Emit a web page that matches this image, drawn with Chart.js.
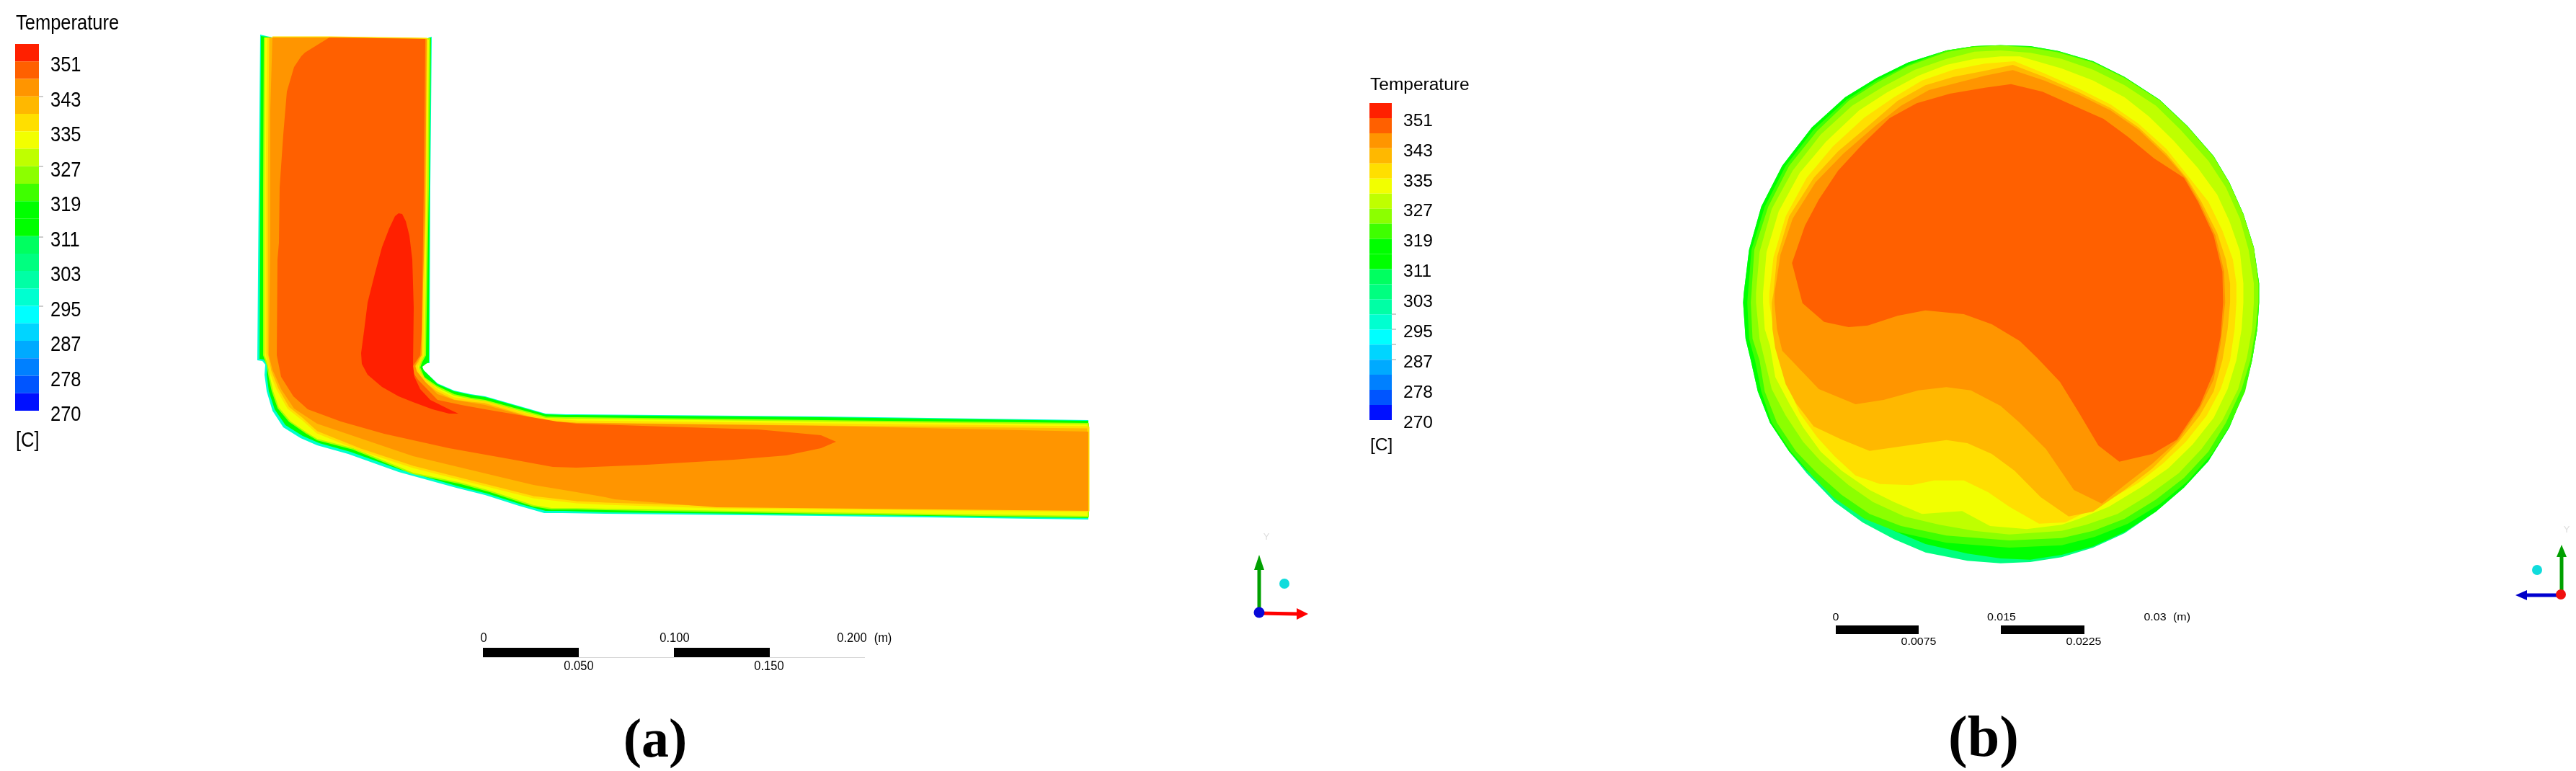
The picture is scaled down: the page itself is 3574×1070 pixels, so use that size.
<!DOCTYPE html>
<html>
<head>
<meta charset="utf-8">
<style>html,body{margin:0;padding:0;background:#fff}canvas{display:block}</style>
<script src="https://cdn.jsdelivr.net/npm/chart.js@4/dist/chart.umd.min.js"></script>
</head>
<body>
<canvas id="c" width="3574" height="1070"></canvas>
<script>
// ---- Data ----
const legendTitle = "Temperature";
const legendUnit = "[C]";
const temperatureTicks = [351, 343, 335, 327, 319, 311, 303, 295, 287, 278, 270];
const bandColors = ["#ff2000","#ff6000","#ff9500","#ffb800","#ffdf00","#f2ff00","#bfff00","#8cff00","#3fff00","#00ff00","#00ff00","#00ff60","#00ff80","#00ffa5","#00ffd0","#00ffff","#00d5ff","#00aaff","#0080ff","#0055ff","#0010ff"];

// Panel (a): temperature contours of the elbow section (page units)
const elbowWall = [[361,48],[359,260],[357,500],[364,501],[368,506],[367,520],[370,543],[378,570],[393,593],[417,608],[440,618],[483,630],[553,655],[633,677],[673,687],[720,702],[755,712],[780,712],[840,713],[1139,716],[1510,721],[1510,583],[1139,578],[800,575],[785,575],[757,574],[673,550],[653,547],[630,542],[607,532],[587,513],[585,508],[590,504],[596,504],[597,260],[599,51],[590,54],[457,52],[378,52]];
const elbowGreen = [[362,50],[361,260],[360,498],[366,499],[371,506],[370,520],[373,543],[381,568],[396,590],[420,605],[443,615],[486,627],[556,652],[636,675],[676,685],[723,700],[757,709],[782,709],[840,711],[1139,714],[1510,719],[1510,584],[1139,579],[800,576],[785,576],[757,575],[673,551],[653,548],[630,543],[607,533],[588,514],[586,509],[591,505],[595,503],[596,260],[598,52],[590,54],[457,52],[378,52]];
const elbowYellow = [[367,52],[366,260],[366,493],[371,507],[374,525],[378,543],[386,566],[402,585],[425,601],[440,610],[490,623],[573,657],[640,671],[680,682],[740,702],[765,706],[800,706],[840,707],[1139,712],[1510,717],[1510,588],[1139,584],[800,580],[785,580],[757,579],[673,556],[653,553],[630,548],[607,537],[588,524],[582,510],[585,502],[590,493],[594,260],[596,54],[590,54],[457,52],[378,52]];
const elbowAmber = [[372,52],[370,260],[370,490],[375,515],[385,540],[400,566],[420,582],[440,600],[500,624],[573,648],[740,690],[800,697],[840,699],[994,704],[1510,709],[1510,593],[1139,589],[800,585],[785,584],[757,583],[673,558],[653,556],[630,553],[607,542],[592,530],[580,515],[578,508],[582,503],[586,493],[590,260],[592,54],[457,52],[378,52]];
const elbowOrange = [[378,52],[375,153],[375,340],[373,493],[378,513],[390,540],[408,567],[440,588],[573,633],[740,673],[800,683],[840,690],[853,693],[994,704],[1510,709],[1510,599],[1139,591],[800,587],[785,586],[757,585],[673,562],[630,555],[607,547],[590,530],[578,515],[576,508],[580,500],[585,493],[587,393],[590,293],[592,54],[457,52]];
const elbowCore = [[457,52],[423,73],[418,78],[408,93],[398,127],[393,187],[388,260],[387,337],[385,360],[384,493],[390,523],[407,550],[427,568],[473,585],[533,602],[623,622],[707,637],[767,648],[800,649],[897,645],[1018,638],[1091,632],[1139,622],[1160,613],[1139,604],[1052,596],[921,592],[800,588],[773,585],[673,568],[640,562],[607,555],[580,527],[573,517],[573,508],[583,493],[585,460],[588,260],[590,54]];
const elbowPeak = [[553,296],[558,297],[563,307],[568,327],[572,360],[574,427],[573,507],[575,523],[583,540],[597,555],[623,568],[636,574],[623,574],[600,568],[573,558],[553,550],[530,537],[510,520],[502,505],[501,490],[505,460],[510,420],[520,380],[530,343],[540,317],[548,300]];

// Panel (b): temperature contours of the cross-section (section units, own scales)
const discEdge = [[775,68],[860,72],[940,92],[1040,135],[1130,200],[1230,295],[1310,405],[1385,530],[1430,640],[1470,770],[1500,910],[1515,1060],[1515,1140],[1510,1250],[1495,1380],[1475,1500],[1430,1660],[1370,1800],[1300,1910],[1220,2010],[1130,2100],[1040,2160],[950,2200],[860,2220],[775,2225],[680,2215],[560,2180],[470,2125],[380,2055],[300,1970],[220,1850],[170,1760],[115,1640],[80,1510],[60,1380],[45,1290],[38,1140],[40,1100],[55,920],[90,740],[150,570],[235,410],[330,285],[420,205],[510,140],[620,90],[700,72]];
const discGreen = [[775,68],[860,72],[940,92],[1040,135],[1130,200],[1230,295],[1310,405],[1385,530],[1430,640],[1470,770],[1500,910],[1515,1060],[1515,1140],[1510,1250],[1495,1380],[1475,1500],[1430,1660],[1370,1800],[1300,1910],[1220,2010],[1130,2095],[1040,2155],[950,2190],[860,2210],[775,2205],[680,2185],[560,2145],[470,2090],[380,2010],[300,1930],[220,1840],[170,1760],[115,1640],[80,1510],[60,1380],[45,1290],[38,1140],[40,1100],[55,920],[90,740],[150,570],[235,410],[330,285],[420,205],[510,140],[620,90],[700,72]];
const discBright = [[510,150],[620,90],[700,72],[775,68],[860,74],[940,94],[1040,137],[1130,202],[1230,296],[1310,406],[1385,531],[1430,641],[1470,771],[1500,911],[1515,1060],[1515,1140],[1510,1250],[1495,1380],[1475,1510],[1430,1655],[1380,1770],[1310,1885],[1230,1980],[1140,2060],[1045,2115],[950,2150],[800,2160],[620,2140],[480,2095],[385,2040],[300,1955],[235,1860],[175,1760],[120,1640],[90,1510],[72,1380],[55,1290],[50,1140],[52,1100],[62,920],[100,740],[160,570],[240,420],[335,295],[420,215]];
const discChartreuse = [[620,97],[700,76],[775,70],[860,78],[940,98],[1040,140],[1130,205],[1230,298],[1310,408],[1385,533],[1430,643],[1470,773],[1500,913],[1513,1060],[1513,1140],[1505,1250],[1490,1380],[1465,1500],[1420,1640],[1370,1760],[1300,1870],[1220,1960],[1130,2040],[1040,2090],[950,2120],[800,2130],[620,2110],[490,2070],[400,2020],[320,1940],[250,1850],[190,1760],[135,1640],[100,1510],[85,1380],[65,1290],[60,1140],[62,1100],[70,920],[110,740],[170,570],[250,425],[340,300],[420,225],[510,155]];
const discLime = [[775,90],[860,100],[950,125],[1040,170],[1130,235],[1220,320],[1290,420],[1370,550],[1420,660],[1460,790],[1485,920],[1500,1060],[1500,1140],[1495,1250],[1480,1370],[1455,1500],[1410,1630],[1350,1750],[1285,1850],[1200,1940],[1110,2020],[1020,2065],[950,2090],[800,2105],[700,2090],[600,2065],[500,2030],[410,1970],[340,1900],[260,1800],[210,1720],[160,1610],[120,1500],[100,1380],[85,1290],[75,1140],[75,1100],[85,930],[120,750],[180,590],[260,440],[350,320],[440,240],[530,170],[620,125],[700,95]];
const discYellow = [[775,115],[830,115],[950,165],[1040,215],[1130,285],[1200,365],[1270,465],[1340,580],[1395,690],[1430,800],[1460,925],[1470,1060],[1470,1140],[1465,1250],[1450,1380],[1425,1500],[1385,1620],[1325,1730],[1255,1830],[1175,1910],[1085,1990],[1000,2040],[950,2065],[850,2083],[745,2070],[665,2008],[550,2020],[470,1970],[400,1920],[320,1840],[260,1760],[210,1660],[170,1560],[130,1450],[115,1320],[100,1250],[95,1140],[95,1100],[105,930],[140,760],[200,600],[275,470],[370,340],[450,265],[540,195],[620,150],[700,125]];
const discGold = [[815,135],[900,185],[1000,250],[1090,315],[1170,395],[1250,500],[1310,610],[1370,720],[1410,840],[1440,960],[1450,1060],[1450,1140],[1445,1250],[1432,1380],[1405,1500],[1365,1610],[1305,1720],[1240,1810],[1170,1890],[1070,1975],[960,2055],[885,2060],[800,1990],[740,1930],[670,1880],[585,1880],[520,1900],[430,1895],[360,1860],[300,1780],[250,1700],[200,1600],[170,1500],[140,1380],[125,1250],[113,1140],[113,1100],[125,950],[160,780],[220,620],[295,490],[385,370],[470,285],[550,215],[640,170],[730,145]];
const discAmber = [[810,150],[900,200],[1000,265],[1090,330],[1170,410],[1250,520],[1310,625],[1350,720],[1395,850],[1420,960],[1432,1060],[1432,1140],[1425,1250],[1410,1380],[1385,1510],[1345,1610],[1285,1720],[1210,1830],[1130,1920],[1040,2010],[970,2030],[890,1950],[815,1840],[750,1770],[680,1725],[620,1712],[530,1730],[400,1757],[320,1710],[240,1655],[190,1560],[160,1480],[130,1330],[122,1250],[120,1140],[125,1100],[135,950],[170,780],[240,620],[310,510],[400,400],[480,300],[560,235],[640,200],[730,175]];
const discOrange = [[810,172],[900,215],[1000,275],[1090,340],[1170,420],[1250,530],[1305,622],[1345,722],[1390,860],[1415,1010],[1418,1140],[1405,1310],[1385,1460],[1345,1580],[1285,1710],[1210,1810],[1130,1900],[1065,1977],[985,1920],[905,1750],[830,1640],[775,1570],[690,1505],[620,1492],[540,1505],[440,1545],[360,1563],[255,1500],[150,1340],[135,1250],[128,1140],[128,1100],[145,940],[180,790],[245,640],[325,520],[420,400],[490,320],[570,255],[650,225],[730,195]];
const discCore = [[805,230],[895,262],[985,320],[1070,375],[1140,450],[1215,540],[1300,620],[1340,720],[1385,860],[1410,1010],[1412,1140],[1405,1280],[1385,1430],[1345,1570],[1280,1710],[1210,1770],[1115,1802],[1055,1735],[1000,1600],[945,1470],[880,1370],[830,1300],[750,1230],[670,1188],[560,1172],[480,1195],[395,1235],[340,1242],[270,1220],[208,1142],[178,975],[215,820],[255,710],[310,590],[380,480],[457,372],[535,310],[630,270],[730,245]];

// Scale bars
const scaleTicksA = ["0", "0.100", "0.200"];
const scaleSubTicksA = ["0.050", "0.150"];
const scaleTicksB = ["0", "0.015", "0.03"];
const scaleSubTicksB = ["0.0075", "0.0225"];
const scaleUnit = "(m)";
const panelNames = ["(a)", "(b)"];

// ---- Layout ----
const W = 3574, H = 1070;
const legends = [
  {x0:21, x1:54, top:61, band:24.24, titleY:33, firstY:91, step:48.5, unitY:612, tx:70, ttx:22, size:25.5, sy:1.18, ticks:[134,231,329,425], tickX:60},
  {x0:1900, x1:1931, top:143, band:20.95, titleY:118, firstY:168, step:41.9, unitY:618, tx:1947, ttx:1901, size:24.5, sy:1.0, ticks:[436,457,478,499], tickX:1937}
];
const bxK = 2.0632, byK = 3; // section units per page unit
const bx0 = 2400, by0 = 40;

// ---- Dataset helpers ----
const toXY = p => ({x:p[0], y:p[1]});
const datasets = [];
function shape(points, color, opts) {
  opts = opts || {};
  datasets.push({
    data: points.map(toXY), showLine:true, tension:0, fill:'shape',
    backgroundColor:color, borderColor:opts.border||color, borderWidth:opts.bw||0,
    borderJoinStyle:'round', pointRadius:0, pointHoverRadius:0,
    xAxisID:opts.b?'xb':'x', yAxisID:opts.b?'yb':'y'
  });
}
function stroke(points, color, width) {
  datasets.push({
    data: points.map(toXY), showLine:true, tension:0, fill:false,
    borderColor:color, borderWidth:width, pointRadius:0, pointHoverRadius:0,
    xAxisID:'x', yAxisID:'y'
  });
}
function ball(x, y, r, color) {
  datasets.push({
    data:[{x,y}], showLine:false, pointStyle:'circle', pointRadius:r, pointHoverRadius:r,
    backgroundColor:color, borderColor:color, borderWidth:0, xAxisID:'x', yAxisID:'y'
  });
}

// Panel (a)
shape(elbowWall, "#00ffd0");
shape(elbowGreen, "#00ff00");
shape(elbowYellow, "#f2ff00", {border:"#a8ff00", bw:2});
shape(elbowAmber, "#ffb800", {border:"#ffdf00", bw:3});
shape(elbowOrange, "#ff9500");
shape(elbowCore, "#ff6000");
shape(elbowPeak, "#ff2000");
// Panel (b)
shape(discEdge, "#00ff80", {b:true});
shape(discGreen, "#00ff00", {b:true});
shape(discBright, "#3fff00", {b:true});
shape(discChartreuse, "#8cff00", {b:true});
shape(discLime, "#bfff00", {b:true});
shape(discYellow, "#f2ff00", {b:true});
shape(discGold, "#ffdf00", {b:true});
shape(discAmber, "#ffb800", {b:true});
shape(discOrange, "#ff9500", {b:true});
shape(discCore, "#ff6000", {b:true});

// Colour bars and their tick marks
legends.forEach(l => {
  bandColors.forEach((c, i) => {
    const a = l.top + i * l.band, b = a + l.band;
    shape([[l.x0,a],[l.x1,a],[l.x1,b],[l.x0,b]], c);
  });
  l.ticks.forEach(t => stroke([[l.x1,t],[l.tickX,t]], "#9a9a9a", 1));
});

// Scale bars
[[670,803,899,912],[935,1068,899,912],[2547,2662,868,880],[2776,2892,868,880]].forEach(r => {
  shape([[r[0],r[2]],[r[1],r[2]],[r[1],r[3]],[r[0],r[3]]], "#000000");
});
stroke([[670,912.5],[1200,912.5]], "#d8d8d8", 1);

// Triads
stroke([[1747,850],[1747,788]], "#00a000", 5);
shape([[1747,770],[1754,791],[1740,791]], "#00a000");
stroke([[1747,851],[1800,852]], "#ff0000", 5);
shape([[1815,852],[1799,844],[1799,860]], "#ff0000");
ball(1747, 850, 7.5, "#0808d8");
ball(1782, 810, 7, "#10dcdc");
stroke([[3554,825],[3554,772]], "#00a000", 5);
shape([[3554,756],[3561,773],[3547,773]], "#00a000");
stroke([[3553,826],[3505,826]], "#0000d0", 5);
shape([[3490,826],[3506,819],[3506,833]], "#0000c8");
ball(3553, 825, 7, "#f01010");
ball(3520, 791, 7, "#10dcdc");

datasets.forEach((d, i) => { d.order = datasets.length - i; });

// ---- Text, positioned through the scales ----
const textPlugin = {
  id:'pageText',
  afterDatasetsDraw(chart) {
    const ctx = chart.ctx, sx = chart.scales.x, sy = chart.scales.y;
    const put = (s, x, y, size, opts) => {
      opts = opts || {};
      ctx.save();
      ctx.translate(sx.getPixelForValue(x), sy.getPixelForValue(y));
      ctx.scale(opts.sx || 1, opts.sy || 1);
      ctx.font = (opts.weight ? opts.weight + " " : "") + size + "px " + (opts.family || '"Liberation Sans", Arial, sans-serif');
      ctx.fillStyle = opts.color || "#000000";
      ctx.textAlign = opts.align || "left";
      ctx.textBaseline = "middle";
      ctx.fillText(s, 0, 0);
      ctx.restore();
    };
    legends.forEach(l => {
      put(legendTitle, l.ttx, l.titleY, l.size, {sy:l.sy});
      temperatureTicks.forEach((t, i) => put(String(t), l.tx, l.firstY + i * l.step, l.size, {sy:l.sy}));
      put(legendUnit, l.ttx, l.unitY, l.size, {sy:l.sy});
    });
    const a = {align:"center", sy:1.1};
    [671, 936, 1182].forEach((x, i) => put(scaleTicksA[i], x, 886, 16.5, a));
    put(scaleUnit, 1225, 886, 16.5, a);
    [803, 1067].forEach((x, i) => put(scaleSubTicksA[i], x, 925, 16.5, a));
    const b = {align:"center", sy:0.9};
    [2547, 2777, 2990].forEach((x, i) => put(scaleTicksB[i], x, 857, 16, b));
    put(scaleUnit, 3027, 857, 16, b);
    [2662, 2891].forEach((x, i) => put(scaleSubTicksB[i], x, 891.5, 16, b));
    const serif = '"Liberation Serif", "Times New Roman", serif';
    put(panelNames[0], 909, 1030, 76, {align:"center", weight:"bold", family:serif});
    put(panelNames[1], 2752, 1028, 80, {align:"center", weight:"bold", family:serif});
    put("Y", 1757, 745, 13, {align:"center", color:"#dddddd"});
    put("Y", 3561, 735, 13, {align:"center", color:"#dddddd"});
  }
};

new Chart(document.getElementById("c"), {
  type:'scatter',
  data:{datasets},
  options:{
    responsive:false, maintainAspectRatio:false, animation:false, events:[],
    layout:{padding:0, autoPadding:false},
    plugins:{legend:{display:false}, tooltip:{enabled:false}, title:{display:false}},
    scales:{
      x:{type:'linear', display:false, min:0, max:W},
      y:{type:'linear', display:false, reverse:true, min:0, max:H},
      xb:{type:'linear', axis:'x', display:false, min:-bx0*bxK, max:(W-bx0)*bxK},
      yb:{type:'linear', axis:'y', display:false, reverse:true, min:-by0*byK, max:(H-by0)*byK}
    }
  },
  plugins:[textPlugin]
});
</script>
</body>
</html>
